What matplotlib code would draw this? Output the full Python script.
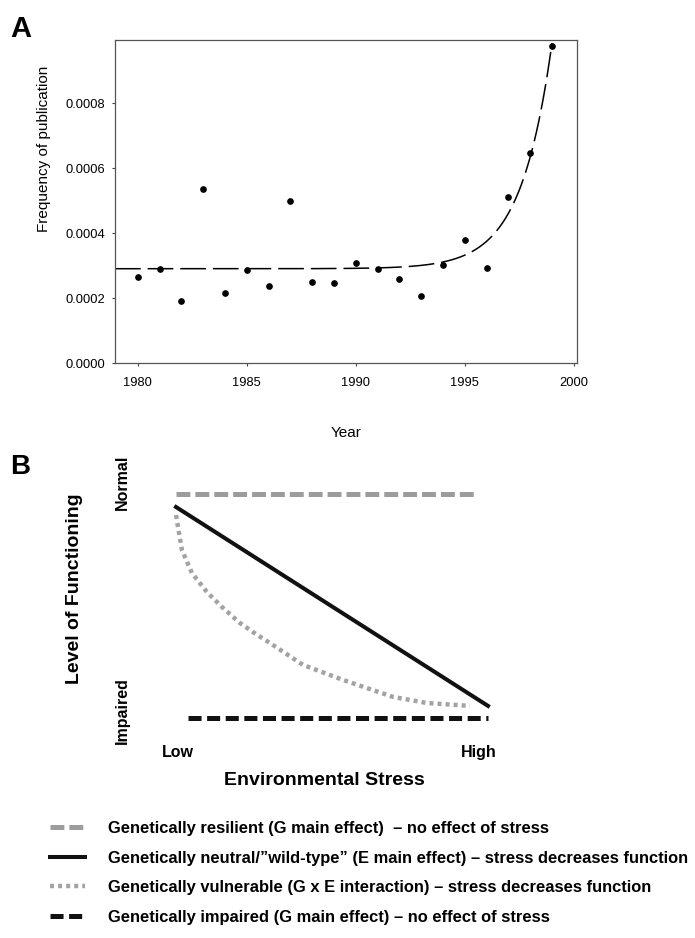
import numpy as np
import matplotlib
matplotlib.use('Agg')
import matplotlib.pyplot as plt

plt.rcParams['font.family'] = ['Liberation Sans', 'DejaVu Sans']
plt.rcParams['lines.scale_dashes'] = False

# Panel A: publication frequency per year
years = [1980, 1981, 1982, 1983, 1984, 1985, 1986, 1987, 1988, 1989,
         1990, 1991, 1992, 1993, 1994, 1995, 1996, 1997, 1998, 1999]
freq = [0.000265, 0.000290, 0.000191, 0.000534, 0.000214, 0.000286, 0.000236,
        0.000499, 0.000250, 0.000247, 0.000309, 0.000290, 0.000258, 0.000205,
        0.000302, 0.000379, 0.000291, 0.000511, 0.000645, 0.000975]

# Panel B: conceptual curves (stress 0 = Low, 1 = High; function 0 = Impaired, 1 = Normal)
resilient_x = [0.0, 0.958]
resilient_y = [1.0, 1.0]
neutral_x = [0.0, 1.0]
neutral_y = [0.942, 0.054]
vulnerable_x = [0.0, 0.019, 0.051, 0.099, 0.147, 0.205, 0.260, 0.301, 0.407,
                0.535, 0.696, 0.804, 0.942]
vulnerable_y = [0.906, 0.750, 0.647, 0.5625, 0.496, 0.424, 0.371, 0.335, 0.237,
                0.170, 0.094, 0.067, 0.054]
impaired_x = [0.038, 1.0]
impaired_y = [0.0, 0.0]

labels = ['Genetically resilient (G main effect)  \u2013 no effect of stress',
          'Genetically neutral/\u201dwild-type\u201d (E main effect) \u2013 stress decreases function',
          'Genetically vulnerable (G x E interaction) \u2013 stress decreases function',
          'Genetically impaired (G main effect) \u2013 no effect of stress']

W, H = 695, 938
fig = plt.figure(figsize=(W / 100, H / 100), dpi=100)


def box(l, t, r, b):
    return [l / W, 1 - b / H, (r - l) / W, (b - t) / H]


# ---- panel A ----
ax = fig.add_axes(box(115, 40, 577, 363))
ax.plot(years, freq, 'o', color='black', markersize=3.8, zorder=3)

# exponential fit y = a + b*exp(c*(x-1999)), least squares over a grid of c
yr = np.array(years, dtype=float)
fr = np.array(freq)
best = None
for c in np.linspace(0.05, 2.0, 2000):
    X = np.column_stack([np.ones_like(yr), np.exp(c * (yr - 1999))])
    coef, res, _, _ = np.linalg.lstsq(X, fr, rcond=None)
    sse = np.sum((X @ coef - fr) ** 2)
    if best is None or sse < best[0]:
        best = (sse, c, coef)
_, c_fit, (a_fit, b_fit) = best
xs = np.linspace(1978.95, 1999, 400)
ax.plot(xs, a_fit + b_fit * np.exp(c_fit * (xs - 1999)), color='black',
        lw=1.1, dashes=(18.5, 5))

ax.set_xlim(1978.95, 2000.15)
ax.set_ylim(0, 0.000994)
ax.set_xticks([1980, 1985, 1990, 1995, 2000])
ax.set_yticks([0, 0.0002, 0.0004, 0.0006, 0.0008])
ax.set_yticklabels(['0.0000', '0.0002', '0.0004', '0.0006', '0.0008'])
ax.tick_params(labelsize=9.3, length=2.5, width=0.8, color='#444444')
ax.tick_params(axis='x', pad=7.5)
ax.tick_params(axis='y', pad=4.5)
for s in ax.spines.values():
    s.set_color('#555555')
    s.set_linewidth(0.9)
fig.text(44 / W, 1 - 149 / H, 'Frequency of publication', rotation=90,
         ha='center', va='center', fontsize=11)
fig.text(346 / W, 1 - 433 / H, 'Year', ha='center', va='center', fontsize=11)
fig.text(10 / W, 1 - 15 / H, 'A', ha='left', va='top', fontsize=21,
         fontweight='bold')

# ---- panel B ----
bx = fig.add_axes([144.8 / W, (938 - 740.4) / H, 374.4 / W, 268.8 / H])
bx.set_xlim(-0.1, 1.1)
bx.set_ylim(-0.1, 1.1)
bx.axis('off')
l1, = bx.plot(resilient_x, resilient_y, color='#9c9c9c', lw=3.6,
              dashes=(10, 3.6))
l2, = bx.plot(neutral_x, neutral_y, color='#111111', lw=2.9)
l3, = bx.plot(vulnerable_x, vulnerable_y, color='#a3a3a3', lw=3.2,
              dashes=(2.9, 2.9))
l4, = bx.plot(impaired_x, impaired_y, color='#111111', lw=3.6,
              dashes=(9.4, 4.0))

tk = dict(fontsize=11.5, fontweight='bold', ha='center', va='center',
          clip_on=False)
bx.text(-0.173, 1.05, 'Normal', rotation=90, **tk)
bx.text(-0.173, 0.031, 'Impaired', rotation=90, **tk)
bx.text(0.006, -0.152, 'Low', **tk)
bx.text(0.971, -0.152, 'High', **tk)
bx.text(-0.324, 0.576, 'Level of Functioning', rotation=90, fontsize=14,
        fontweight='bold', ha='center', va='center')
bx.text(0.474, -0.277, 'Environmental Stress', fontsize=14,
        fontweight='bold', ha='center', va='center')
fig.text(10 / W, 1 - 454 / H, 'B', ha='left', va='top', fontsize=20,
         fontweight='bold')

fig.legend([l1, l2, l3, l4], labels, loc='upper left',
           bbox_to_anchor=(50 / W, 1 - 821 / H), frameon=False,
           borderpad=0, borderaxespad=0, handlelength=2.1,
           handletextpad=1.4, labelspacing=0.88,
           prop={'size': 11.9, 'weight': 'bold'})

fig.savefig('out.png', dpi=100)
